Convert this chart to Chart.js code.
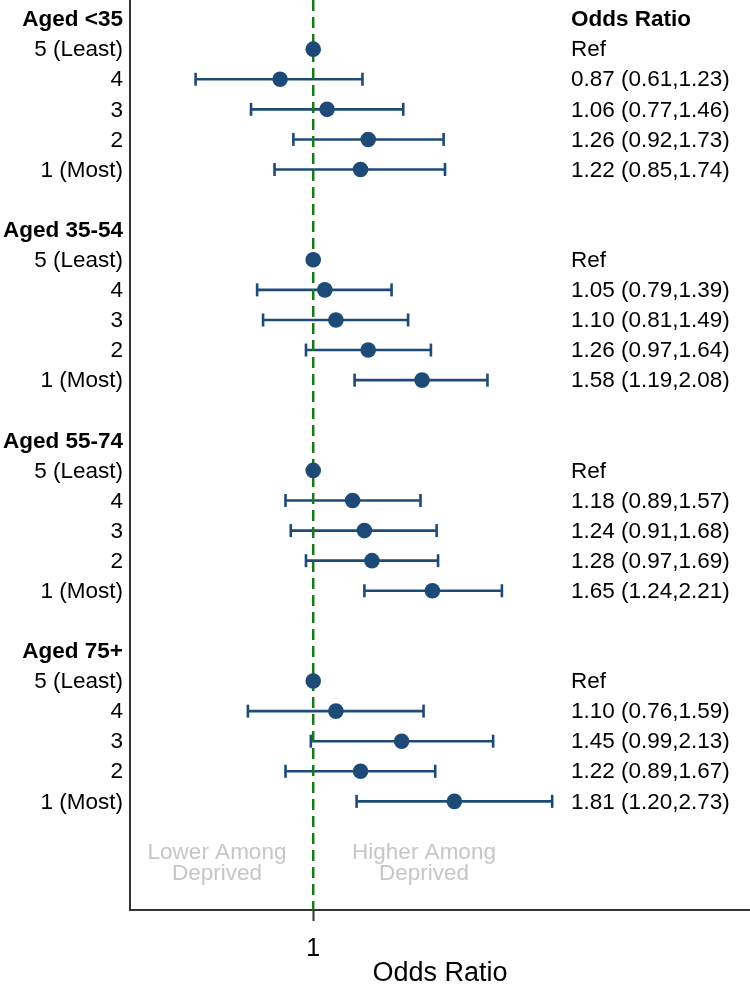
<!DOCTYPE html>
<html>
<head>
<meta charset="utf-8">
<script src="https://cdn.jsdelivr.net/npm/chart.js@4.4.1/dist/chart.umd.min.js"></script>
<style>
  html, body { margin: 0; padding: 0; background: #fff; }
  #wrap { width: 750px; height: 985px; position: relative; }
</style>
</head>
<body>
<div id="wrap"><canvas id="forest"></canvas></div>
<script>
// ==============================
// DATA
// ==============================
const groups = ["Aged <35", "Aged 35-54", "Aged 55-74", "Aged 75+"];
const quintiles = ["5 (Least)", "4", "3", "2", "1 (Most)"];

// odds ratio, lower and upper CI per group (first = reference)
const orAged35 = [1, 0.87, 1.06, 1.26, 1.22];
const loAged35 = [null, 0.61, 0.77, 0.92, 0.85];
const hiAged35 = [null, 1.23, 1.46, 1.73, 1.74];

const orAged3554 = [1, 1.05, 1.10, 1.26, 1.58];
const loAged3554 = [null, 0.79, 0.81, 0.97, 1.19];
const hiAged3554 = [null, 1.39, 1.49, 1.64, 2.08];

const orAged5574 = [1, 1.18, 1.24, 1.28, 1.65];
const loAged5574 = [null, 0.89, 0.91, 0.97, 1.24];
const hiAged5574 = [null, 1.57, 1.68, 1.69, 2.21];

const orAged75 = [1, 1.10, 1.45, 1.22, 1.81];
const loAged75 = [null, 0.76, 0.99, 0.89, 1.20];
const hiAged75 = [null, 1.59, 2.13, 1.67, 2.73];

const orList = [orAged35, orAged3554, orAged5574, orAged75];
const loList = [loAged35, loAged3554, loAged5574, loAged75];
const hiList = [hiAged35, hiAged3554, hiAged5574, hiAged75];

const xTickValues = [1];
const xTickLabels = ["1"];
const xTitle = "Odds Ratio";
const colTitle = "Odds Ratio";
const refText = "Ref";
const leftNote = ["Lower Among", "Deprived"];
const rightNote = ["Higher Among", "Deprived"];

// ==============================
// STYLE
// ==============================
const BLUE = "#1d4a77";
const GREEN = "#167a16";
const AXIS = "#333333";
const NOTE = "#c6c6c6";
const FONT = "'Liberation Sans', Arial, sans-serif";

const Y_MIN = -0.634;
const Y_MAX = 29.61;
const rowOf = (g, q) => g * 7 + 1 + q;

// ==============================
// DATASETS
// ==============================
const pointData = [];
const ciSets = [];

orList.forEach((vals, g) => {
  vals.forEach((v, q) => {
    const r = rowOf(g, q);
    pointData.push({ x: v, y: r });
    if (loList[g][q] != null) {
      ciSets.push({
        type: "scatter",
        showLine: true,
        data: [{ x: loList[g][q], y: r }, { x: hiList[g][q], y: r }],
        borderColor: BLUE,
        borderWidth: 2.6,
        pointStyle: "line",
        pointRotation: 90,
        pointRadius: 6.5,
        pointBorderColor: BLUE,
        pointBorderWidth: 2.6,
        pointBackgroundColor: BLUE
      });
    }
  });
});

const datasets = [
  {
    type: "scatter",
    data: pointData,
    pointRadius: 7.8,
    pointBackgroundColor: BLUE,
    pointBorderWidth: 0
  },
  {
    type: "scatter",
    showLine: true,
    data: [{ x: 1, y: Y_MIN }, { x: 1, y: Y_MAX }],
    borderColor: GREEN,
    borderWidth: 2.5,
    borderDash: [11, 6],
    pointRadius: 0
  },
  ...ciSets
];

// ==============================
// TEXT PLUGIN
// ==============================
const textPlugin = {
  id: "forestText",
  afterDatasetsDraw(chart) {
    const ctx = chart.ctx;
    const y = chart.scales.y;
    const left = chart.chartArea.left;
    const colX = 571;

    ctx.save();
    ctx.textBaseline = "middle";
    ctx.fillStyle = "#000";

    // right column header
    ctx.textAlign = "left";
    ctx.font = "bold 22.5px " + FONT;
    ctx.fillText(colTitle, colX, y.getPixelForValue(0) + 1);

    groups.forEach((name, g) => {
      const hy = y.getPixelForValue(g * 7) + 1;
      ctx.textAlign = "right";
      ctx.font = "bold 22.5px " + FONT;
      ctx.fillText(name, left - 7, hy);

      quintiles.forEach((lab, q) => {
        const ry = y.getPixelForValue(rowOf(g, q)) + 1;
        ctx.font = "22.5px " + FONT;
        ctx.textAlign = "right";
        ctx.fillText(lab, left - 7, ry);

        const o = orList[g][q];
        const lo = loList[g][q];
        const hi = hiList[g][q];
        const txt = lo == null ? refText
          : `${o.toFixed(2)} (${lo.toFixed(2)},${hi.toFixed(2)})`;
        ctx.textAlign = "left";
        ctx.fillText(txt, colX, ry);
      });
    });

    // direction notes
    ctx.fillStyle = NOTE;
    ctx.font = "22.5px " + FONT;
    ctx.textAlign = "center";
    const ny = y.getPixelForValue(28);
    leftNote.forEach((t, i) => ctx.fillText(t, 217, ny - 9 + i * 21));
    rightNote.forEach((t, i) => ctx.fillText(t, 424, ny - 9 + i * 21));

    ctx.restore();
  }
};

// ==============================
// CHART
// ==============================
new Chart(document.getElementById("forest"), {
  type: "scatter",
  data: { datasets },
  plugins: [textPlugin],
  options: {
    responsive: true,
    maintainAspectRatio: false,
    animation: false,
    layout: { padding: 0, autoPadding: false },
    plugins: {
      legend: { display: false },
      tooltip: { enabled: false }
    },
    scales: {
      x: {
        type: "logarithmic",
        min: 0.463,
        max: 6.27,
        afterBuildTicks: s => { s.ticks = xTickValues.map(v => ({ value: v })); },
        afterFit: s => { s.height = 75; },
        ticks: {
          autoSkip: false,
          maxRotation: 0,
          padding: 13,
          color: "#000",
          font: { family: FONT, size: 25 },
          callback: v => {
            const i = xTickValues.indexOf(v);
            return i >= 0 ? xTickLabels[i] : "";
          }
        },
        grid: {
          drawOnChartArea: false,
          drawTicks: true,
          tickLength: 11,
          tickColor: AXIS,
          tickWidth: 2
        },
        border: { display: true, color: AXIS, width: 2 },
        title: {
          display: true,
          text: xTitle,
          color: "#000",
          font: { family: FONT, size: 27 },
          padding: { top: 0, bottom: -5 }
        }
      },
      y: {
        type: "linear",
        reverse: true,
        min: Y_MIN,
        max: Y_MAX,
        afterFit: s => { s.width = 130; },
        ticks: { display: false },
        grid: { display: false },
        border: { display: true, color: AXIS, width: 2 }
      }
    }
  }
});
</script>
</body>
</html>
